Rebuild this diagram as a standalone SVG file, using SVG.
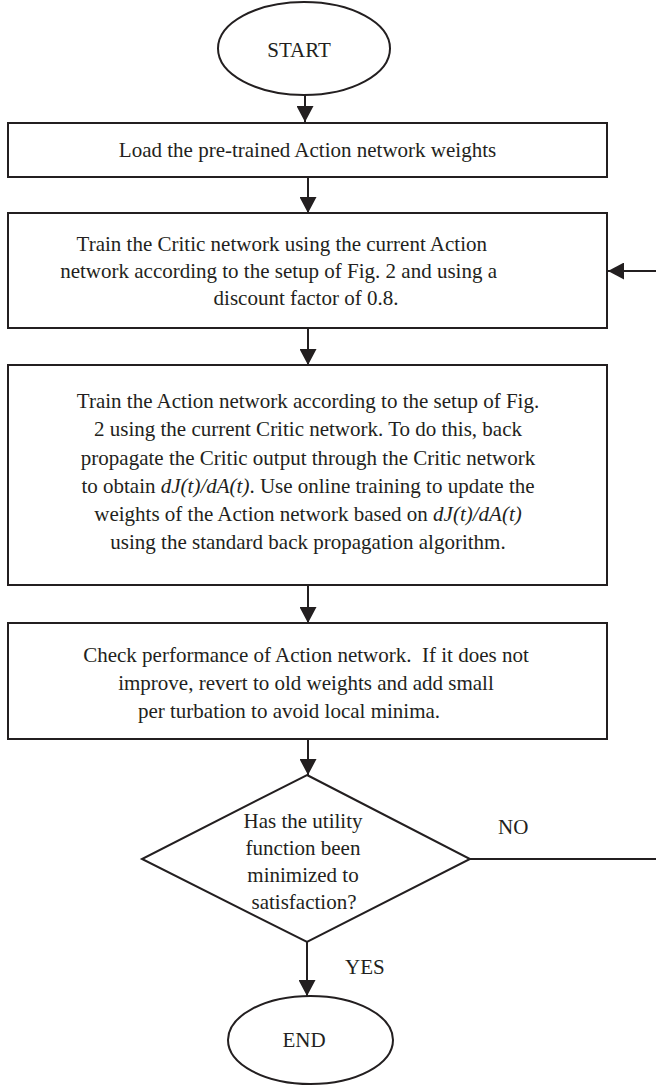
<svg xmlns="http://www.w3.org/2000/svg" width="656" height="1086" viewBox="0 0 656 1086">
  <style>
    .shape { fill: #ffffff; stroke: #231f20; stroke-width: 2; }
    .conn { fill: none; stroke: #231f20; stroke-width: 2; }
    text { font-family: "Liberation Serif", "Times New Roman", serif; font-size: 21px; fill: #231f20; }
    .mid { text-anchor: middle; }
    .end { text-anchor: end; }
    .it { font-style: italic; }
  </style>
  <defs>
    <marker id="arrow" viewBox="0 0 16 17" refX="16" refY="8.5" markerWidth="16" markerHeight="17" markerUnits="userSpaceOnUse" orient="auto">
      <path d="M0,0 L16,8.5 L0,17 Z" fill="#231f20"/>
    </marker>
  </defs>

  <rect width="656" height="1086" fill="#ffffff"/>

  <!-- connectors -->
  <g id="connectors">
    <line class="conn" x1="305" y1="95" x2="305" y2="122" marker-end="url(#arrow)"/>
    <line class="conn" x1="308" y1="177" x2="308" y2="213" marker-end="url(#arrow)"/>
    <line class="conn" x1="308" y1="328" x2="308" y2="365" marker-end="url(#arrow)"/>
    <line class="conn" x1="308" y1="585" x2="308" y2="623" marker-end="url(#arrow)"/>
    <line class="conn" x1="308" y1="739" x2="308" y2="775" marker-end="url(#arrow)"/>
    <line class="conn" x1="307" y1="942" x2="307" y2="996" marker-end="url(#arrow)"/>
    <!-- NO branch loops back to the Critic training step -->
    <path class="conn" d="M470,859 H664 V271 H608" marker-end="url(#arrow)"/>
    <text x="498" y="834">NO</text>
    <text x="345" y="974">YES</text>
  </g>

  <g id="start">
    <ellipse class="shape" cx="304" cy="48.5" rx="86" ry="46.5"/>
    <text class="mid" x="299" y="57">START</text>
  </g>

  <g id="load-weights">
    <rect class="shape" x="8" y="123" width="599" height="54"/>
    <text class="mid" x="307.5" y="157">Load the pre-trained Action network weights</text>
  </g>

  <g id="train-critic">
    <rect class="shape" x="8" y="213" width="599" height="115"/>
    <text class="end" x="487" y="251">Train the Critic network using the current Action</text>
    <text class="end" x="497" y="278">network according to the setup of Fig. 2 and using a</text>
    <text class="mid" x="306" y="305">discount factor of 0.8.</text>
  </g>

  <g id="train-action">
    <rect class="shape" x="8" y="365" width="599" height="220"/>
    <text class="mid" x="308" y="408">Train the Action network according to the setup of Fig.</text>
    <text class="mid" x="308" y="436">2 using the current Critic network. To do this, back</text>
    <text class="mid" x="308" y="465">propagate the Critic output through the Critic network</text>
    <text class="mid" x="308" y="493">to obtain <tspan class="it">dJ(t)/dA(t)</tspan>. Use online training to update the</text>
    <text class="mid" x="308" y="521">weights of the Action network based on <tspan class="it">dJ(t)/dA(t)</tspan></text>
    <text class="mid" x="308" y="549">using the standard back propagation algorithm.</text>
  </g>

  <g id="check-performance">
    <rect class="shape" x="8" y="623" width="599" height="116"/>
    <text class="mid" x="306" y="662">Check performance of Action network.&#160; If it does not</text>
    <text class="mid" x="306" y="690">improve, revert to old weights and add small</text>
    <text class="mid" x="289" y="718">per turbation to avoid local minima.</text>
  </g>

  <g id="decision">
    <polygon class="shape" points="307,775 470,859 307,942 142,859"/>
    <text class="mid" x="303" y="828">Has the utility</text>
    <text class="mid" x="303" y="855">function been</text>
    <text class="mid" x="303" y="882">minimized to</text>
    <text class="mid" x="304" y="909">satisfaction?</text>
  </g>

  <g id="end">
    <ellipse class="shape" cx="310.5" cy="1040" rx="82.5" ry="44"/>
    <text class="mid" x="304" y="1047">END</text>
  </g>
</svg>
